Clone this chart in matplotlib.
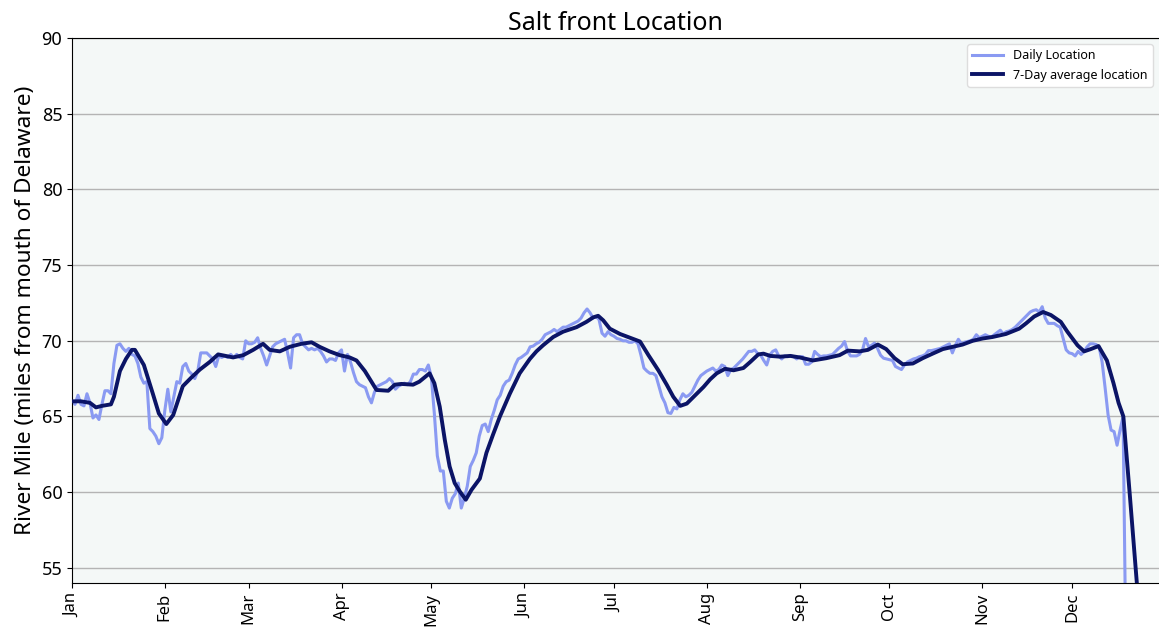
import matplotlib
matplotlib.use("Agg")
import matplotlib.pyplot as plt
import matplotlib.dates as mdates
import pandas as pd

plt.rcParams["font.family"] = ["Noto Sans", "DejaVu Sans"]

# daily salt front location, one value per day from Jan 1 (river mile)
daily_mile = [
    66.0, 65.8, 66.4, 65.8, 65.7, 66.5, 65.9, 64.9, 65.1, 64.8,
    65.8, 66.7, 66.7, 66.5, 68.5, 69.7, 69.8, 69.5, 69.3, 69.5,
    69.1, 69.0, 68.5, 67.6, 67.2, 67.3, 64.2, 64.0, 63.7, 63.2,
    63.6, 65.4, 66.8, 65.3, 66.3, 67.3, 67.2, 68.3, 68.5, 68.0,
    67.8, 67.5, 68.0, 69.2, 69.2, 69.2, 69.0, 68.8, 68.3, 69.0,
    68.9, 69.0, 68.9, 69.1, 68.9, 69.1, 68.9, 68.8, 70.0, 69.8,
    69.8, 69.9, 70.2, 69.5, 69.0, 68.4, 69.0, 69.6, 69.8, 69.9,
    70.0, 70.1, 69.2, 68.2, 70.2, 70.4, 70.4, 69.8, 69.6, 69.4,
    69.5, 69.4, 69.5, 69.3, 69.0, 68.6, 68.8, 68.8, 68.7, 69.2,
    69.4, 68.0, 69.1, 68.6, 67.9, 67.3, 67.1, 67.0, 66.9, 66.3,
    65.9, 66.6, 67.0, 67.1, 67.2, 67.3, 67.5, 67.3, 66.8, 67.0,
    67.1, 67.2, 67.1, 67.3, 67.8, 67.8, 68.1, 68.1, 68.0, 68.4,
    67.6, 65.2, 62.4, 61.4, 61.4, 59.4, 58.95, 59.6, 59.9, 60.6,
    58.95, 59.6, 60.4, 61.7, 62.1, 62.6, 63.7, 64.4, 64.5, 64.0,
    64.8, 65.4, 66.1, 66.4, 67.0, 67.3, 67.4, 67.85, 68.4, 68.8,
    68.9, 69.05, 69.2, 69.6, 69.65, 69.8, 69.9, 70.1, 70.4, 70.5,
    70.6, 70.75, 70.6, 70.75, 70.9, 70.9, 71.0, 71.1, 71.2, 71.3,
    71.5, 71.85, 72.1, 71.85, 71.5, 71.6, 71.4, 70.5, 70.3, 70.6,
    70.4, 70.3, 70.15, 70.1, 70.0, 70.0, 69.9, 69.9, 70.0, 69.8,
    69.05, 68.2, 68.0, 67.85, 67.85, 67.7, 67.0, 66.3, 65.9, 65.25,
    65.2, 65.6, 65.5, 66.1, 66.5, 66.3, 66.4, 66.6, 67.0, 67.4,
    67.7, 67.85, 68.0, 68.1, 68.2, 68.0, 68.1, 68.4, 68.3, 67.7,
    68.1, 68.2, 68.4, 68.6, 68.8, 69.05, 69.3, 69.3, 69.4, 69.15,
    69.05, 68.7, 68.4, 69.05, 69.3, 69.4, 69.0, 68.8, 69.0, 68.95,
    69.0, 68.95, 68.8, 68.95, 68.95, 68.45, 68.45, 68.6, 69.3, 69.1,
    68.95, 69.0, 69.0, 69.05, 69.1, 69.3, 69.5, 69.65, 69.95, 69.3,
    69.0, 69.0, 69.0, 69.1, 69.4, 70.15, 69.6, 69.7, 69.85, 69.5,
    69.05, 68.85, 68.8, 68.75, 68.7, 68.3, 68.2, 68.1, 68.4, 68.6,
    68.7, 68.8, 68.85, 68.95, 69.0, 69.1, 69.35, 69.35, 69.4, 69.45,
    69.5, 69.6, 69.7, 69.8, 69.2, 69.7, 70.1, 69.8, 69.9, 69.95,
    70.0, 70.1, 70.4, 70.2, 70.3, 70.4, 70.3, 70.25, 70.4, 70.55,
    70.7, 70.45, 70.6, 70.65, 70.75, 70.9, 71.1, 71.3, 71.5, 71.7,
    71.9, 72.0, 72.05, 71.9, 72.25, 71.5, 71.15, 71.15, 71.15, 71.0,
    70.9, 70.15, 69.4, 69.2, 69.15, 69.0, 69.3, 69.1, 69.3, 69.6,
    69.8, 69.8, 69.75, 69.6, 68.6, 66.9, 65.1, 64.1, 64.0, 63.1,
    64.1, 65.0, 48.5, 48.0, 48.2, 48.0,
]

# 7-day average (day of year, river mile)
avg_day = [
    0, 3, 6, 8, 10, 13, 14, 16, 18, 20, 21, 24, 27, 29, 31.5, 33.8, 37, 40,
    42.7, 46, 48.8, 53.8, 57.2, 60.5, 63.8, 66, 69.4, 72.7, 76.6, 80, 82.7,
    86, 89.4, 92.7, 95, 97.8, 101.7, 105.6, 107.8, 110, 113.9, 116, 119.4,
    121, 122.8, 124.5, 126.1, 127.8, 129.5, 131.5, 133.4, 136.2, 138.4,
    140.6, 142.9, 146.2, 149.5, 152.9, 155.1, 157.3, 160.7, 164, 168.5,
    171.8, 174.1, 175.7, 177.4, 179.6, 183, 186.3, 189.7, 192.5, 195.8,
    198.6, 200.8, 203.1, 205.3, 208.1, 210.9, 213.1, 215.3, 218.1, 220.9,
    224.2, 226.5, 229.2, 230.9, 233.2, 236.5, 239.9, 243, 247.4, 251.9,
    256.3, 259.1, 263, 265.8, 269.1, 271.9, 274.7, 277.4, 280.8, 284.1,
    287.4, 290.8, 294.1, 297.4, 300.8, 304.1, 307.4, 311.9, 316.3, 318.6,
    321.3, 324.3, 326.9, 330.2, 332.4, 335.8, 338, 340.2, 342.8, 345.6,
    347.8, 349.5, 351.1, 353.3, 355.6, 358,
]
avg_mile = [
    66.0, 66.0, 65.9, 65.6, 65.7, 65.8, 66.3, 68.0, 68.8, 69.4, 69.4, 68.4,
    66.5, 65.2, 64.5, 65.1, 67.0, 67.6, 68.1, 68.6, 69.1, 68.9, 69.05, 69.4,
    69.8, 69.4, 69.3, 69.6, 69.8, 69.9, 69.6, 69.3, 69.05, 68.9, 68.7, 68.0,
    66.75, 66.7, 67.1, 67.15, 67.1, 67.3, 67.85, 67.2, 65.65, 63.45, 61.7,
    60.6, 60.05, 59.5, 60.15, 60.9, 62.6, 63.8, 65.0, 66.5, 67.85, 68.8,
    69.3, 69.7, 70.25, 70.6, 70.9, 71.25, 71.55, 71.65, 71.35, 70.8, 70.45,
    70.2, 69.95, 69.05, 68.05, 67.1, 66.3, 65.7, 65.85, 66.4, 66.95, 67.45,
    67.85, 68.15, 68.05, 68.2, 68.6, 69.1, 69.15, 69.0, 68.95, 69.0, 68.9,
    68.7, 68.85, 69.05, 69.35, 69.3, 69.4, 69.75, 69.45, 68.85, 68.45, 68.5,
    68.85, 69.15, 69.45, 69.6, 69.75, 70.0, 70.15, 70.25, 70.45, 70.8,
    71.15, 71.6, 71.9, 71.7, 71.25, 70.6, 69.7, 69.3, 69.45, 69.65, 68.7,
    67.2, 65.9, 65.0, 59.7, 54.0, 48.3,
]

start = pd.Timestamp("2023-01-01")
daily_dates = pd.date_range(start, periods=len(daily_mile), freq="D")
avg_dates = start + pd.to_timedelta(avg_day, unit="D")

fig = plt.figure(figsize=(11.59, 6.27), dpi=100)
ax = fig.add_axes([72 / 1159, 1 - 583 / 627, 1 - 72 / 1159, (583 - 38) / 627])
ax.set_facecolor("#f4f8f7")

ax.plot(daily_dates, daily_mile, color="#8a9af2", linewidth=2.2, label="Daily Location", zorder=2)
ax.plot(avg_dates, avg_mile, color="#0b1466", linewidth=2.8, label="7-Day average location", zorder=3)

ax.set_ylim(54, 90)
ax.set_xlim(start, start + pd.Timedelta(days=363))
ax.set_yticks([55, 60, 65, 70, 75, 80, 85, 90])
ax.yaxis.grid(True, color="#b4b4b4", linewidth=1)
ax.set_axisbelow(True)

ax.xaxis.set_major_locator(mdates.MonthLocator())
ax.xaxis.set_major_formatter(mdates.DateFormatter("%b"))
ax.tick_params(axis="x", labelrotation=90, labelsize=12)
ax.tick_params(axis="y", labelsize=13)
ax.spines["right"].set_visible(False)

ax.set_ylabel("River Mile (miles from mouth of Delaware)", fontsize=16.3)
ax.set_title("Salt front Location", fontsize=18, pad=6)

leg = ax.legend(loc="upper right", fontsize=9, frameon=True, framealpha=1,
                facecolor="white", edgecolor="#dddddd", handlelength=2.5)

fig.savefig("out.png", dpi=100)
